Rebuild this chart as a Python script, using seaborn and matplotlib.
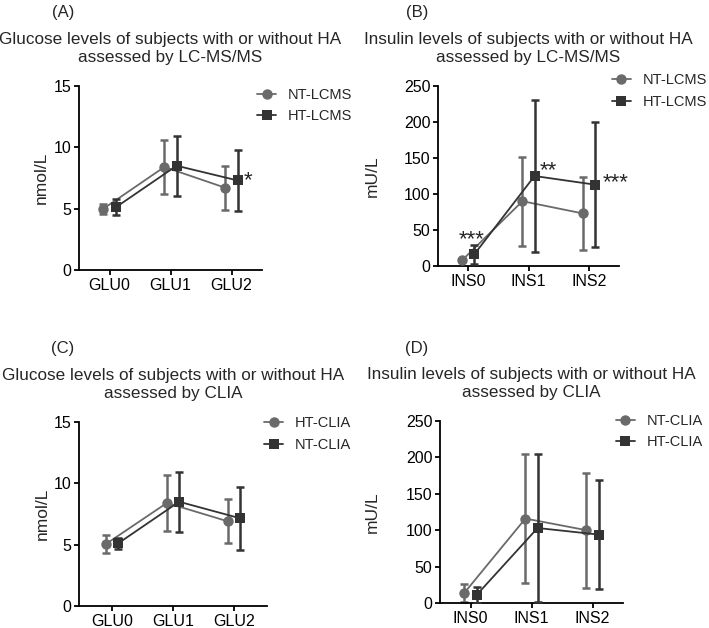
import matplotlib
matplotlib.use("Agg")
import matplotlib.pyplot as plt
import seaborn as sns
import pandas as pd
import numpy as np

# ---------------- data ----------------
glu_cats = ["GLU0", "GLU1", "GLU2"]
ins_cats = ["INS0", "INS1", "INS2"]

# Panel A: glucose, LC-MS/MS
a_labels = ["NT-LCMS", "HT-LCMS"]
a_mean_1 = [5.0, 8.4, 6.7]
a_err_1 = [0.4, 2.2, 1.8]
a_mean_2 = [5.1, 8.5, 7.3]
a_err_2 = [0.65, 2.45, 2.5]

# Panel B: insulin, LC-MS/MS
b_labels = ["NT-LCMS", "HT-LCMS"]
b_mean_1 = [8, 90, 73]
b_err_1 = [0, 62, 51]
b_mean_2 = [16, 125, 113]
b_err_2 = [13, 105, 87]

# Panel C: glucose, CLIA
c_labels = ["HT-CLIA", "NT-CLIA"]
c_mean_1 = [5.05, 8.4, 6.9]
c_err_1 = [0.7, 2.25, 1.8]
c_mean_2 = [5.1, 8.5, 7.15]
c_err_2 = [0.45, 2.45, 2.55]

# Panel D: insulin, CLIA
d_labels = ["NT-CLIA", "HT-CLIA"]
d_mean_1 = [14, 116, 100]
d_err_1 = [12, 88, 79]
d_mean_2 = [11, 103, 94]
d_err_2 = [11, 101, 75]

# significance marks: (x position, y, text)
a_stars = [(2.27, 7.3, "*")]
b_stars = [(0.05, 36, "***"), (1.33, 132, "**"), (2.45, 116, "***")]

# ---------------- style ----------------
sns.set_theme(style="ticks")
plt.rcParams["font.family"] = ["Liberation Sans", "DejaVu Sans"]
plt.rcParams["axes.linewidth"] = 1.3
plt.rcParams["xtick.major.width"] = 1.3
plt.rcParams["ytick.major.width"] = 1.3
plt.rcParams["xtick.major.size"] = 3.5
plt.rcParams["ytick.major.size"] = 3.5
plt.rcParams["xtick.labelsize"] = 11.5
plt.rcParams["ytick.labelsize"] = 11.5
plt.rcParams["xtick.color"] = "black"
plt.rcParams["ytick.color"] = "black"
plt.rcParams["axes.edgecolor"] = "black"

COL1 = "#6a6a6a"
COL2 = "#333333"
OFF = 0.1

fig = plt.figure(figsize=(7.09, 6.28), dpi=100)


def panel(rect, cats, labels, m1, e1, m2, e2, ylim, yticks, ylabel, title,
          xlim, ylab_x, leg_anchor, stars=()):
    ax = fig.add_axes(rect)
    idx = np.arange(len(cats))
    df = pd.DataFrame({
        "pos": np.concatenate([idx - OFF, idx + OFF]),
        "value": list(m1) + list(m2),
        "group": [labels[0]] * len(cats) + [labels[1]] * len(cats),
    })
    sns.lineplot(data=df, x="pos", y="value", hue="group", style="group",
                 hue_order=labels, style_order=labels,
                 palette={labels[0]: COL1, labels[1]: COL2},
                 markers={labels[0]: "o", labels[1]: "s"}, dashes=False,
                 markersize=7.5, markeredgewidth=0, linewidth=1.3,
                 sort=False, ax=ax, legend=True, zorder=3)
    ax.errorbar(idx - OFF, m1, yerr=e1, fmt="none", ecolor=COL1,
                elinewidth=1.8, capsize=2.6, capthick=1.8, zorder=2)
    ax.errorbar(idx + OFF, m2, yerr=e2, fmt="none", ecolor=COL2,
                elinewidth=1.8, capsize=2.6, capthick=1.8, zorder=4)
    ax.set_xticks(idx)
    ax.set_xticklabels(cats)
    ax.set_xlim(*xlim)
    ax.set_ylim(*ylim)
    ax.set_yticks(yticks)
    ax.set_xlabel("")
    ax.set_ylabel(ylabel, fontsize=12.5)
    ax.yaxis.set_label_coords(ylab_x, 0.5)
    ax.tick_params(axis="both", pad=2)
    sns.despine(ax=ax)
    ax.set_title(title, fontsize=12.3, linespacing=1.3, pad=17)
    sns.move_legend(ax, "upper left", bbox_to_anchor=leg_anchor,
                    frameon=False, title=None, fontsize=10.5,
                    handlelength=1.3, handletextpad=0.8, labelspacing=0.5,
                    borderpad=0, borderaxespad=0)
    for x, y, t in stars:
        ax.text(x, y, t, fontsize=16, ha="center", va="center")
    return ax


panel([79 / 709, 1 - 270 / 628, 183 / 709, 184 / 628], glu_cats, a_labels,
      a_mean_1, a_err_1, a_mean_2, a_err_2, (0, 15), [0, 5, 10, 15], "nmol/L",
      "Glucose levels of subjects with or without HA\nassessed by LC-MS/MS",
      (-0.5, 2.5), -0.164, (0.975, 0.99), a_stars)

panel([438 / 709, 1 - 266 / 628, 181 / 709, 180 / 628], ins_cats, b_labels,
      b_mean_1, b_err_1, b_mean_2, b_err_2, (0, 250), [0, 50, 100, 150, 200, 250], "mU/L",
      "Insulin levels of subjects with or without HA\nassessed by LC-MS/MS",
      (-0.5, 2.5), -0.32, (0.96, 1.07), b_stars)

panel([79 / 709, 1 - 606 / 628, 188 / 709, 184 / 628], glu_cats, c_labels,
      c_mean_1, c_err_1, c_mean_2, c_err_2, (0, 15), [0, 5, 10, 15], "nmol/L",
      "Glucose levels of subjects with or without HA\nassessed by CLIA",
      (-0.54, 2.54), -0.154, (0.985, 1.03))

panel([440 / 709, 1 - 603 / 628, 183 / 709, 182 / 628], ins_cats, d_labels,
      d_mean_1, d_err_1, d_mean_2, d_err_2, (0, 250), [0, 50, 100, 150, 200, 250], "mU/L",
      "Insulin levels of subjects with or without HA\nassessed by CLIA",
      (-0.5, 2.5), -0.328, (0.96, 1.04))

for txt, x, y in [("(A)", 63, 12), ("(B)", 417, 12), ("(C)", 63, 348), ("(D)", 417, 348)]:
    fig.text(x / 709, 1 - y / 628, txt, fontsize=12, ha="center", va="center")

fig.savefig("out.png", dpi=100)
